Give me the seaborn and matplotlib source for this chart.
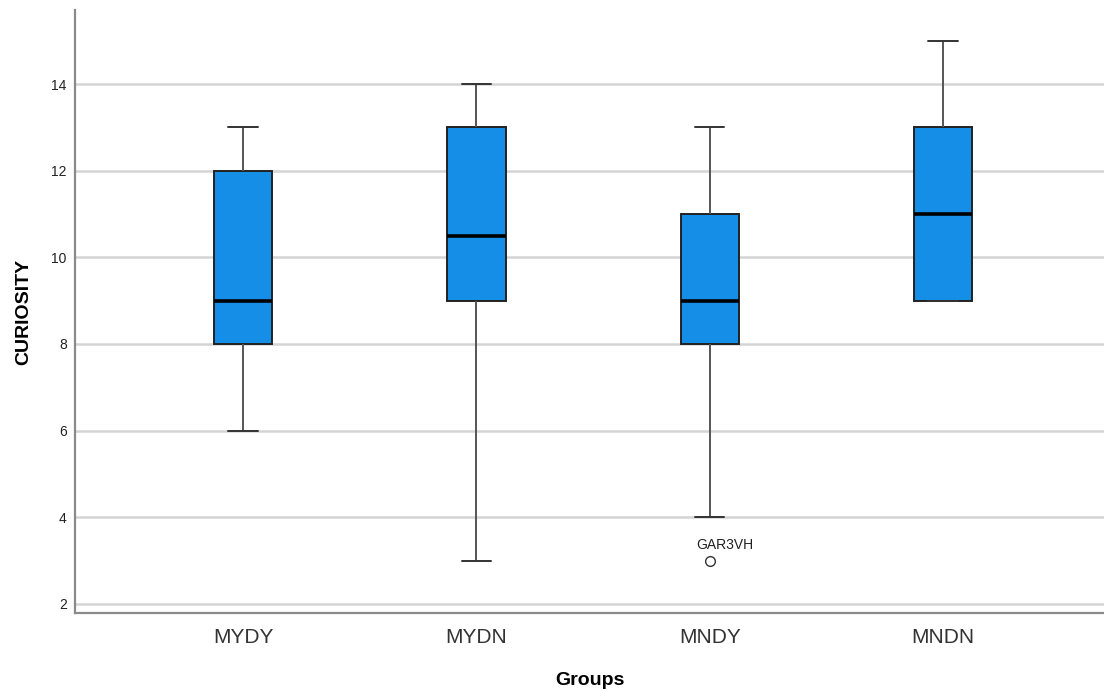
import numpy as np
import pandas as pd
import matplotlib
matplotlib.use('Agg')
import matplotlib.pyplot as plt
from matplotlib import cbook
import seaborn as sns

# Curiosity scores per group
groups = ['MYDY', 'MYDN', 'MNDY', 'MNDN']
mydy_scores = [6, 8, 8, 9, 9, 11, 12, 12, 13]
mydn_scores = [3, 8, 9, 9, 10, 11, 13, 13, 14, 14]
mndy_scores = [3, 4, 8, 8, 9, 9, 11, 11, 12, 13]
mndn_scores = [9, 9, 9, 10, 11, 12, 13, 13, 15]
outlier_ids = {'MNDY': 'GAR3VH'}
y_ticks = [2, 4, 6, 8, 10, 12, 14]

scores = [mydy_scores, mydn_scores, mndy_scores, mndn_scores]
df = pd.DataFrame({
    'Groups': np.repeat(groups, [len(s) for s in scores]),
    'CURIOSITY': np.concatenate(scores),
})

sns.set_theme(style='white')
plt.rcParams['font.family'] = ['Liberation Sans', 'DejaVu Sans']

fig = plt.figure(figsize=(11.04, 6.92), dpi=100)
ax = fig.add_axes([0.068, 0.1142, 0.932, 0.8713])

ax.yaxis.grid(True, color='#d4d4d4', linewidth=1.8, zorder=0)
ax.set_axisbelow(True)

sns.boxplot(
    data=df, x='Groups', y='CURIOSITY', order=groups, ax=ax,
    width=0.25, color='#148ee6', saturation=1, whis=1.5, fliersize=7,
    boxprops=dict(facecolor='#148ee6', edgecolor='#222222', linewidth=1.4),
    medianprops=dict(color='black', linewidth=2.6),
    whiskerprops=dict(color='#555555', linewidth=1.4),
    capprops=dict(color='#333333', linewidth=1.4),
    flierprops=dict(marker='o', markerfacecolor='white', markeredgecolor='#333333',
                    markeredgewidth=1.0),
)

# label the outliers with their case id
for i, g in enumerate(groups):
    if g not in outlier_ids:
        continue
    stats = cbook.boxplot_stats(np.array(scores[i]), whis=1.5)[0]
    for v in stats['fliers']:
        ax.annotate(outlier_ids[g], xy=(i, v), xytext=(11, 11), textcoords='offset points',
                    ha='center', va='center', fontsize=10, color='#222222')

ax.set_ylim(1.79, 15.71)
ax.set_xlim(-0.72, 3.69)
ax.set_yticks(y_ticks)
ax.set_yticklabels([str(t) for t in y_ticks])

ax.tick_params(axis='y', length=0, pad=6, labelsize=10, labelcolor='#222222')
ax.tick_params(axis='x', length=0, pad=11, labelsize=15, labelcolor='#333333')
for lbl in ax.get_xticklabels():
    lbl.set_family(['Liberation Sans Narrow', 'Liberation Sans', 'DejaVu Sans'])

ax.set_xlabel('Groups', fontsize=14, fontweight='bold', labelpad=18, color='black')
ax.set_ylabel('CURIOSITY', fontsize=14, fontweight='bold', labelpad=14, color='black')

for side in ['top', 'right']:
    ax.spines[side].set_visible(False)
for side in ['left', 'bottom']:
    ax.spines[side].set_color('#8a8a8a')
    ax.spines[side].set_linewidth(1.6)

fig.savefig('out.png', dpi=100, facecolor='white')
